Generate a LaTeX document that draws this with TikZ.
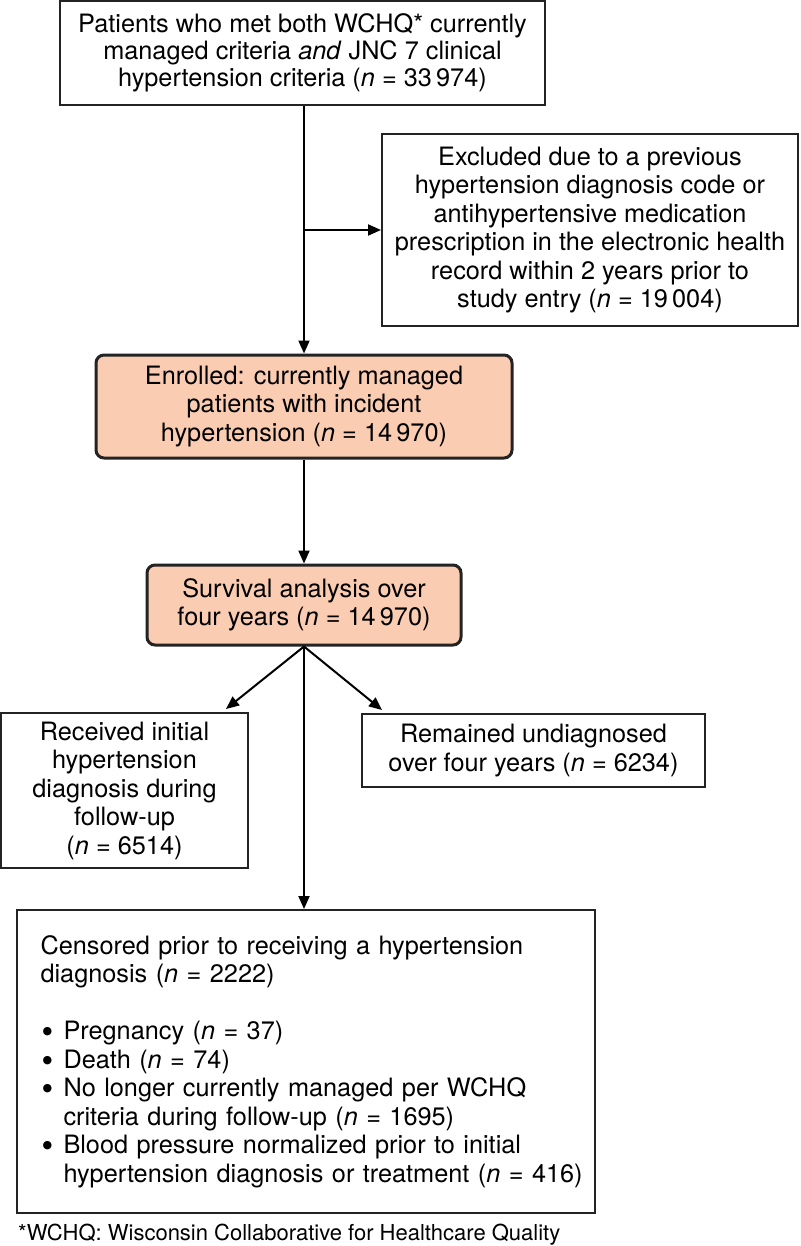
\documentclass[tikz,border=0pt]{standalone}
\usepackage{fontspec}
\setmainfont{TeX Gyre Heros}
\newfontfamily\dejavu{DejaVu Sans}
\usetikzlibrary{arrows.meta,calc}
\definecolor{peach}{RGB}{250,204,178}
\definecolor{edgegray}{RGB}{35,35,35}
\newcommand{\bigbul}{\makebox[23pt][l]{\hspace{2pt}\raisebox{5pt}{\dejavu\fontsize{11}{11}\selectfont ●}}}
\begin{document}
\begin{tikzpicture}[x=1pt,y=-1pt,
  box/.style={draw=edgegray,line width=2pt,inner sep=0pt,align=center,font=\fontsize{25.3}{28.5}\selectfont},
  rbox/.style={box,fill=peach,rounded corners=8pt,line width=3pt},
  arr/.style={draw=black,line width=2pt,-{Triangle[length=13pt,width=11pt]}}]
\useasboundingbox (0,0) rectangle (800,1246);

\node[box,minimum width=485pt,minimum height=104pt,font=\fontsize{25.3}{27}\selectfont] (top) at (302.5,53)
  {Patients who met both WCHQ* currently\\ managed criteria \textit{and} JNC 7 clinical\\ hypertension criteria (\textit{n} = 33\,974)};

\node[box,minimum width=416pt,minimum height=192pt] (excl) at (590,230)
  {Excluded due to a previous\\ hypertension diagnosis code or\\ antihypertensive medication\\ prescription in the electronic health\\ record within 2 years prior to\\ study entry (\textit{n} = 19\,004)};

\node[rbox,minimum width=416pt,minimum height=103pt] (enr) at (304,406.5)
  {Enrolled: currently managed\\ patients with incident\\ hypertension (\textit{n} = 14\,970)};

\node[rbox,minimum width=314pt,minimum height=80pt] (surv) at (304,605)
  {Survival analysis over\\ four years (\textit{n} = 14\,970)};

\node[box,minimum width=247pt,minimum height=155pt] (lbox) at (124.5,790.5)
  {Received initial\\ hypertension\\ diagnosis during\\ follow-up\\ (\textit{n} = 6514)};

\node[box,minimum width=343pt,minimum height=73pt] (rbox) at (533.5,750.5)
  {Remained undiagnosed\\ over four years (\textit{n} = 6234)};

\node[box,align=left,text width=530pt,inner xsep=24pt,minimum height=303pt] (cens) at (305.5,1061.5)
  {\mbox{Censored prior to receiving a hypertension}\\
   \mbox{diagnosis (\textit{n} = 2222)}\\[28.5pt]
   \mbox{\bigbul Pregnancy (\textit{n} = 37)}\\
   \mbox{\bigbul Death (\textit{n} = 74)}\\
   \mbox{\bigbul No longer currently managed per WCHQ}\\
   \mbox{\hspace*{23pt}criteria during follow-up (\textit{n} = 1695)}\\
   \mbox{\bigbul Blood pressure normalized prior to initial}\\
   \mbox{\hspace*{23pt}hypertension diagnosis or treatment (\textit{n} = 416)}};

\node[anchor=west,inner sep=0pt,font=\fontsize{22}{26}\selectfont] (foot) at (18,1235)
  {*WCHQ: Wisconsin Collaborative for Healthcare Quality};

\coordinate (lt) at ($(lbox.north east)+(-23,-3)$);
\coordinate (rt) at ($(rbox.north west)+(21,-3)$);

\draw[arr] (top.south -| enr.north) -- (enr.north);
\draw[arr] (excl.west -| enr.north) -- (excl.west);
\draw[arr] (enr.south) -- (surv.north);
\draw[arr] (surv.south) -- (lt);
\draw[arr] (surv.south) -- (rt);
\draw[arr] (surv.south) -- (surv.south |- cens.north);
\end{tikzpicture}
\end{document}
